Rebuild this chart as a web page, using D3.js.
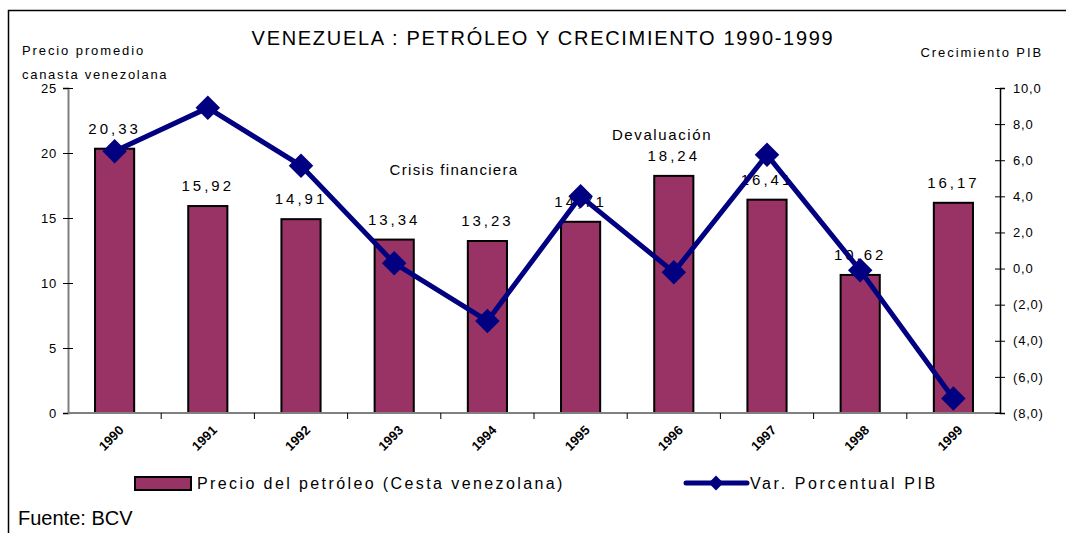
<!DOCTYPE html>
<html>
<head>
<meta charset="utf-8">
<script src="https://cdn.jsdelivr.net/npm/d3@7"></script>
<style>
  body { margin: 0; background: #fff; }
  text { font-family: "Liberation Sans", Arial, sans-serif; }
</style>
</head>
<body>
<div class="canvas"></div>
<script>
// chart data
const years = ['1990', '1991', '1992', '1993', '1994', '1995', '1996', '1997', '1998', '1999'];
const precios = [20.33, 15.92, 14.91, 13.34, 13.23, 14.71, 18.24, 16.41, 10.62, 16.17];
const pib = [6.5, 8.9, 5.7, 0.3, -2.9, 4.0, -0.2, 6.3, -0.1, -7.2];
const leftTicks = [0, 5, 10, 15, 20, 25];
const rightTicks = [-8, -6, -4, -2, 0, 2, 4, 6, 8, 10];

const width = 1066, height = 533;
const plot = { left: 68, right: 1000, top: 88, bottom: 413 };

const svg = d3.select('.canvas')
    .append('svg')
    .attr('width', width)
    .attr('height', height);

// outer frame
svg.append('rect')
    .attr('x', 8.5).attr('y', 10.5)
    .attr('width', 1080).attr('height', 540)
    .attr('fill', 'none')
    .attr('stroke', '#000')
    .attr('stroke-width', 1.5);

const x = d3.scaleBand()
    .domain(years)
    .range([plot.left, plot.right])
    .paddingInner(0.58)
    .paddingOuter(0.29);

const yLeft = d3.scaleLinear().domain([0, 25]).range([plot.bottom, plot.top]);
const yRight = d3.scaleLinear().domain([-8, 10]).range([plot.bottom, plot.top]);

const fmt = v => {
    const s = Math.abs(v).toFixed(1).replace('.', ',');
    return v < 0 ? `(${s})` : s;
};

// bars
svg.selectAll('.bar')
    .data(precios)
    .enter()
    .append('rect')
    .attr('class', 'bar')
    .attr('x', (d, i) => x(years[i]))
    .attr('y', d => yLeft(d))
    .attr('width', x.bandwidth())
    .attr('height', d => yLeft(0) - yLeft(d))
    .attr('fill', '#993366')
    .attr('stroke', '#000')
    .attr('stroke-width', 2);

// bar labels
svg.selectAll('.blabel')
    .data(precios)
    .enter()
    .append('text')
    .attr('class', 'blabel')
    .attr('x', (d, i) => x(years[i]) + x.bandwidth() / 2)
    .attr('y', d => yLeft(d) - 15)
    .attr('text-anchor', 'middle')
    .attr('font-size', 15)
    .attr('letter-spacing', 3)
    .text(d => d.toFixed(2).replace('.', ','));

// left axis
const leftAxis = svg.append('g')
    .attr('transform', `translate(${plot.left},0)`)
    .call(d3.axisLeft(yLeft).tickValues(leftTicks).tickSize(5).tickPadding(6));
leftAxis.select('.domain').attr('stroke', '#808080').attr('stroke-width', 2);
leftAxis.selectAll('.tick line').attr('x2', 5).attr('x1', -5).attr('stroke', '#000');
leftAxis.selectAll('.tick text').attr('font-size', 13).attr('letter-spacing', 0.8)
    .attr('font-family', '"Liberation Sans", Arial, sans-serif');

// bottom axis
const bottom = svg.append('g');
bottom.append('line')
    .attr('x1', plot.left).attr('x2', plot.right)
    .attr('y1', plot.bottom).attr('y2', plot.bottom)
    .attr('stroke', '#808080').attr('stroke-width', 2);
bottom.selectAll('.xt')
    .data(years.slice(1))
    .enter()
    .append('line')
    .attr('x1', d => x(d) - x.step() * x.paddingInner() / 2)
    .attr('x2', d => x(d) - x.step() * x.paddingInner() / 2)
    .attr('y1', plot.bottom).attr('y2', plot.bottom + 6)
    .attr('stroke', '#000');
bottom.selectAll('.xl')
    .data(years)
    .enter()
    .append('text')
    .attr('transform', d => `translate(${x(d) + x.bandwidth() / 2 + 10},${plot.bottom + 18}) rotate(-45)`)
    .attr('text-anchor', 'end')
    .attr('font-size', 13)
    .attr('font-weight', 'bold')
    .text(d => d);

// right axis
const rightAxis = svg.append('g')
    .attr('transform', `translate(${plot.right},0)`)
    .call(d3.axisRight(yRight).tickValues(rightTicks).tickFormat(fmt).tickSize(5).tickPadding(8));
rightAxis.select('.domain').attr('stroke', '#000').attr('stroke-width', 1.5);
rightAxis.selectAll('.tick line').attr('x1', -5).attr('x2', 5).attr('stroke', '#000');
rightAxis.selectAll('.tick text').attr('font-size', 13).attr('letter-spacing', 0.8)
    .attr('font-family', '"Liberation Sans", Arial, sans-serif');

// line
const line = d3.line()
    .x((d, i) => x(years[i]) + x.bandwidth() / 2)
    .y(d => yRight(d));

svg.append('path')
    .datum(pib)
    .attr('fill', 'none')
    .attr('stroke', '#000080')
    .attr('stroke-width', 5)
    .attr('stroke-linejoin', 'round')
    .attr('d', line);

svg.selectAll('.pt')
    .data(pib)
    .enter()
    .append('path')
    .attr('transform', (d, i) => `translate(${x(years[i]) + x.bandwidth() / 2},${yRight(d)}) rotate(45)`)
    .attr('d', d3.symbol().type(d3.symbolSquare).size(300))
    .attr('fill', '#000080');

// titles
svg.append('text')
    .attr('x', 543).attr('y', 45)
    .attr('text-anchor', 'middle')
    .attr('font-size', 20)
    .attr('letter-spacing', 1.7)
    .text('VENEZUELA : PETRÓLEO Y CRECIMIENTO 1990-1999');

svg.append('text').attr('x', 22).attr('y', 55).attr('font-size', 13).attr('letter-spacing', 1.9)
    .text('Precio promedio');
svg.append('text').attr('x', 22).attr('y', 79).attr('font-size', 13).attr('letter-spacing', 1.7)
    .text('canasta venezolana');
svg.append('text').attr('x', 1043).attr('y', 57).attr('font-size', 13).attr('letter-spacing', 1.9)
    .attr('text-anchor', 'end')
    .text('Crecimiento PIB');

// annotations
svg.append('text').attr('x', 454).attr('y', 175).attr('font-size', 15).attr('letter-spacing', 1.3)
    .attr('text-anchor', 'middle').text('Crisis financiera');
svg.append('text').attr('x', 662).attr('y', 140).attr('font-size', 15).attr('letter-spacing', 1.6)
    .attr('text-anchor', 'middle').text('Devaluación');

// legend
svg.append('rect')
    .attr('x', 135).attr('y', 477).attr('width', 56).attr('height', 13)
    .attr('fill', '#993366').attr('stroke', '#000').attr('stroke-width', 2);
svg.append('text').attr('x', 197).attr('y', 489).attr('font-size', 16).attr('letter-spacing', 2.4)
    .text('Precio del petróleo (Cesta venezolana)');

svg.append('line')
    .attr('x1', 686).attr('x2', 747).attr('y1', 483).attr('y2', 483)
    .attr('stroke', '#000080').attr('stroke-width', 5).attr('stroke-linecap', 'round');
svg.append('path')
    .attr('transform', 'translate(716,483) rotate(45)')
    .attr('d', d3.symbol().type(d3.symbolSquare).size(110))
    .attr('fill', '#000080');
svg.append('text').attr('x', 750).attr('y', 489).attr('font-size', 16).attr('letter-spacing', 2.6)
    .text('Var. Porcentual PIB');

svg.append('text').attr('x', 18).attr('y', 525).attr('font-size', 20)
    .text('Fuente: BCV');
</script>
</body>
</html>
